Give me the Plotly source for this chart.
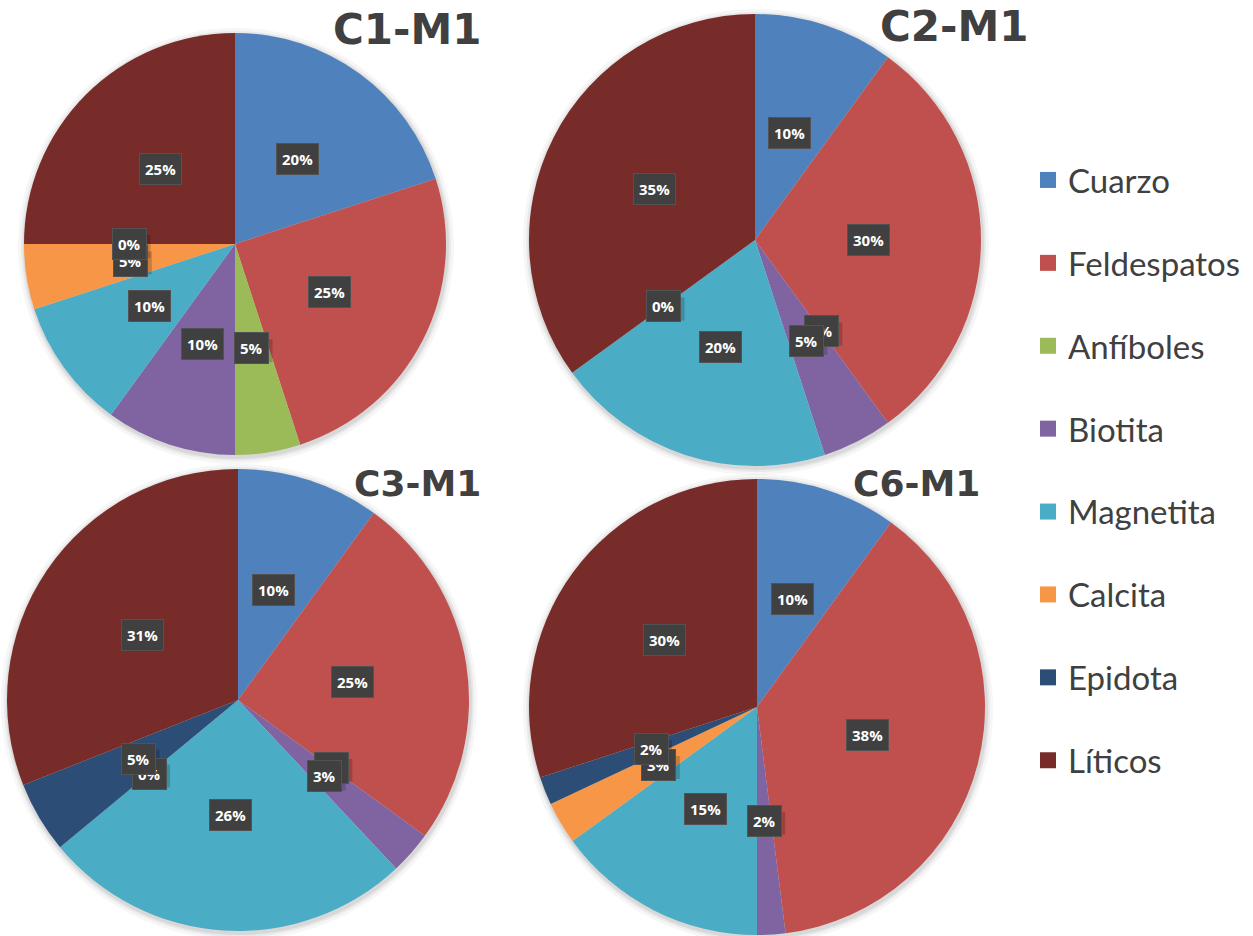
import math
import plotly.graph_objects as go

# Mineral composition (%) of four samples
categories = ["Cuarzo", "Feldespatos", "Anfíboles", "Biotita",
              "Magnetita", "Calcita", "Epidota", "Líticos"]
colors = ["#4F81BD", "#C0504D", "#9BBB59", "#8064A2",
          "#4BACC6", "#F79646", "#2C4D75", "#772C2A"]

titles = ["C1-M1", "C2-M1", "C3-M1", "C6-M1"]
c1_m1 = [20, 25, 5, 10, 10, 5, 0, 25]
c2_m1 = [10, 30, 0, 5, 20, 0, None, 35]
c3_m1 = [10, 25, 0, 3, 26, 0, 5, 31]
c6_m1 = [10, 38, None, 2, 15, 3, 2, 30]
samples = [c1_m1, c2_m1, c3_m1, c6_m1]

W, H = 1253, 936

# pie placement in pixels: centre x, centre y, radius
geometry = [(235, 244, 211), (755, 240, 226), (238, 700, 231), (757, 707, 228)]
# title placement in pixels: centre x, centre y, font size
title_pos = [(407, 30, 42), (954, 26, 42), (417, 483, 36), (916, 483, 36)]

fig = go.Figure()
annotations = []
shapes = []

for (cx, cy, r), vals, title, (tx, ty, ts) in zip(geometry, samples, titles, title_pos):
    # soft shadow under each pie
    for grow, alpha in [(7, 0.035), (4, 0.05), (2, 0.07)]:
        shapes.append(dict(
            type="circle", xref="paper", yref="paper", layer="below",
            x0=(cx - r - grow + 1) / W, x1=(cx + r + grow + 1) / W,
            y0=1 - (cy + r + grow + 2) / H, y1=1 - (cy - r - grow + 2) / H,
            fillcolor=f"rgba(0,0,0,{alpha})", line=dict(width=0)))

    fig.add_trace(go.Pie(
        labels=categories,
        values=[v if v is not None else 0 for v in vals],
        marker=dict(colors=colors, line=dict(width=0)),
        sort=False, direction="clockwise", rotation=0,
        textinfo="none", showlegend=False,
        domain=dict(x=[(cx - r) / W, (cx + r) / W],
                    y=[1 - (cy + r) / H, 1 - (cy - r) / H]),
    ))

    # percentage labels at half radius, middle of each slice
    total = sum(v for v in vals if v is not None)
    cum = 0
    for v in vals:
        if v is None:
            continue
        mid = (cum + v / 2) / total * 2 * math.pi
        cum += v
        lx = cx + 0.5 * r * math.sin(mid)
        ly = cy - 0.5 * r * math.cos(mid)
        # drop shadow behind the label box
        shapes.append(dict(
            type="rect", xref="paper", yref="paper", layer="above",
            x0=(lx - 17) / W, x1=(lx + 21) / W,
            y0=1 - (ly + 14) / H, y1=1 - (ly - 9) / H,
            fillcolor="rgba(0,0,0,0.18)", line=dict(width=0)))
        annotations.append(dict(
            x=lx / W, y=1 - ly / H, xref="paper", yref="paper",
            xanchor="center", yanchor="middle",
            text=f"{round(v / total * 100)}%", showarrow=False,
            font=dict(family="Open Sans", size=15, color="white", weight="bold"),
            bgcolor="#404040", bordercolor="#525252", borderwidth=1, borderpad=5,
        ))

    annotations.append(dict(
        x=tx / W, y=1 - ty / H, xref="paper", yref="paper",
        xanchor="center", yanchor="middle",
        text=f"<b>{title}</b>", showarrow=False,
        font=dict(family="DejaVu Sans", size=ts, color="#404040"),
    ))

# legend entries
for name, col in zip(categories, colors):
    fig.add_trace(go.Scatter(
        x=[None], y=[None], mode="markers", name=name, legendgroup=name,
        marker=dict(symbol="square", size=16, color=col),
    ))

fig.update_layout(
    width=W, height=H,
    margin=dict(l=0, r=0, t=0, b=0),
    paper_bgcolor="white", plot_bgcolor="white",
    xaxis=dict(visible=False), yaxis=dict(visible=False),
    annotations=annotations, shapes=shapes,
    legend=dict(
        x=1028 / W, xanchor="left", y=1 - 152 / H, yanchor="top",
        font=dict(family="Lato, sans-serif", size=33, color="#404040"),
        tracegroupgap=37, bgcolor="rgba(0,0,0,0)",
    ),
)

fig.write_html("out.html")
